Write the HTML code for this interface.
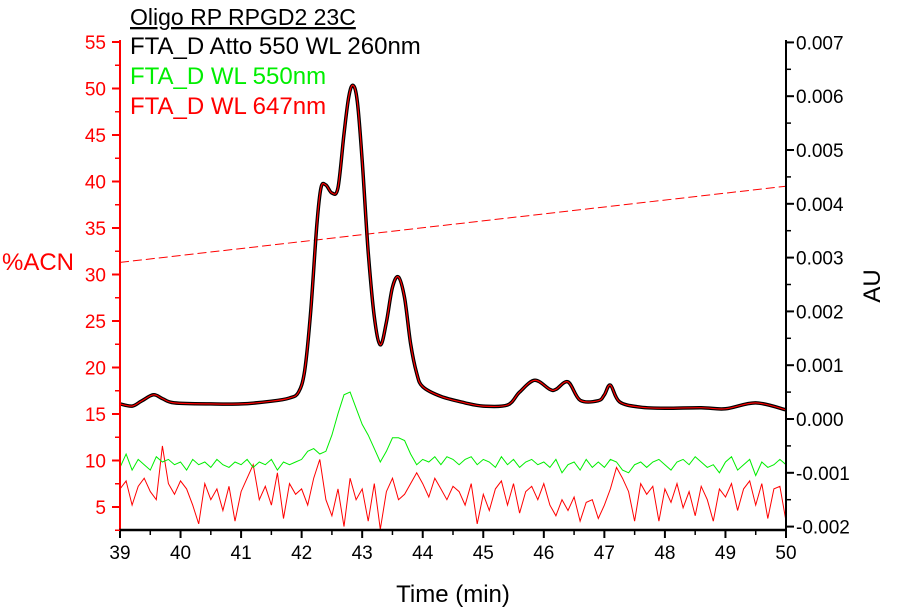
<!DOCTYPE html>
<html><head><meta charset="utf-8"><style>
body{margin:0;background:#fff;}
svg{display:block;font-family:"Liberation Sans",sans-serif;}
</style></head><body>
<svg id="chart" width="905" height="611">
<text x="130" y="25" font-size="23" text-decoration="underline" fill="#000">Oligo RP RPGD2 23C</text>
<text x="130" y="54" font-size="24" fill="#000">FTA_D Atto 550 WL 260nm</text>
<text x="130" y="84" font-size="24" fill="#00ee00">FTA_D WL 550nm</text>
<text x="130" y="114" font-size="24" fill="#ff0000">FTA_D WL 647nm</text>
<text x="2" y="270" font-size="24" fill="#ff0000">%ACN</text>
<text x="0" y="0" font-size="24" fill="#000" transform="translate(880,286) rotate(-90)" text-anchor="middle">AU</text>
<text x="453" y="602" font-size="24" fill="#000" text-anchor="middle">Time (min)</text>
</svg>
<script>
const xTicks=[39,40,41,42,43,44,45,46,47,48,49,50];
const leftTicks=[5,10,15,20,25,30,35,40,45,50,55];
const rightTicks=[-0.002,-0.001,0.000,0.001,0.002,0.003,0.004,0.005,0.006,0.007];
const rightTickLabels=["-0.002","-0.001","0.000","0.001","0.002","0.003","0.004","0.005","0.006","0.007"];
const trace260Time=[39.0,39.2,39.35,39.55,39.7,39.9,40.5,41.0,41.5,41.8,41.95,42.05,42.15,42.25,42.32,42.4,42.5,42.6,42.7,42.78,42.85,42.92,43.0,43.1,43.2,43.3,43.4,43.5,43.6,43.7,43.8,43.9,44.0,44.3,44.7,45.0,45.4,45.6,45.85,46.1,46.2,46.4,46.6,46.9,47.0,47.1,47.25,47.6,48.0,48.6,49.0,49.5,50.0];
const trace260mAU=[0.28,0.24,0.33,0.45,0.38,0.30,0.28,0.28,0.33,0.39,0.5,0.9,2.0,3.6,4.3,4.35,4.2,4.3,5.3,6.0,6.2,5.9,4.8,3.1,1.9,1.38,1.8,2.45,2.64,2.25,1.4,0.85,0.6,0.42,0.30,0.24,0.26,0.50,0.72,0.55,0.55,0.69,0.35,0.34,0.45,0.63,0.32,0.22,0.20,0.21,0.19,0.30,0.17];
const trace550mAU=[-0.9,-0.65,-0.95,-0.75,-0.85,-0.95,-0.7,-0.8,-0.75,-0.85,
-0.8,-0.95,-0.75,-0.85,-0.8,-0.9,-0.75,-0.85,-0.9,-0.8,
-0.85,-0.75,-0.9,-0.8,-0.85,-0.75,-0.95,-0.8,-0.85,-0.8,
-0.75,-0.6,-0.55,-0.65,-0.6,-0.3,0.1,0.45,0.5,0.2,
-0.1,-0.3,-0.55,-0.8,-0.6,-0.35,-0.35,-0.4,-0.65,-0.85,
-0.75,-0.8,-0.7,-0.85,-0.7,-0.75,-0.85,-0.75,-0.7,-0.85,
-0.75,-0.8,-0.9,-0.7,-0.85,-0.75,-0.9,-0.8,-0.75,-0.85,
-0.8,-0.9,-0.75,-1.0,-0.85,-0.8,-0.95,-0.75,-0.9,-0.8,
-0.9,-0.75,-0.8,-0.95,-1.0,-0.85,-0.8,-0.9,-0.8,-0.75,
-0.85,-0.95,-0.8,-0.75,-0.85,-0.7,-0.8,-0.9,-0.85,-1.0,
-0.8,-0.7,-0.95,-0.85,-0.75,-1.05,-0.8,-0.9,-0.85,-0.75,-0.85];
const trace647mAU=[-1.3,-1.15,-1.6,-1.25,-1.1,-1.35,-1.5,-0.5,-1.2,-1.4,
-1.15,-1.3,-1.6,-1.95,-1.2,-1.5,-1.3,-1.7,-1.25,-1.9,
-1.35,-1.1,-0.85,-1.5,-1.25,-1.6,-1.0,-1.85,-1.2,-1.4,
-1.3,-1.6,-1.1,-0.75,-1.5,-1.8,-1.3,-2.0,-1.1,-1.5,
-1.3,-1.9,-1.2,-2.05,-1.35,-1.1,-1.5,-1.4,-1.2,-1.0,
-1.2,-1.45,-1.1,-1.3,-1.5,-1.25,-1.35,-1.6,-1.2,-1.95,
-1.4,-1.7,-1.3,-1.15,-1.6,-1.2,-1.75,-1.35,-1.25,-1.5,
-1.2,-1.6,-1.8,-1.5,-1.7,-1.45,-1.9,-1.55,-1.5,-1.85,
-1.6,-1.3,-0.9,-1.1,-1.35,-1.9,-1.2,-1.4,-1.25,-1.9,
-1.3,-1.55,-1.2,-1.65,-1.35,-1.8,-1.25,-1.5,-1.9,-1.3,
-1.45,-1.2,-1.7,-1.3,-1.15,-1.6,-1.2,-1.85,-1.3,-1.25,-1.9];
const gradientTime=[39,50];
const gradientACN=[31.3,39.5];

const NS="http://www.w3.org/2000/svg";
const svg=document.getElementById('chart');
const X0=120,X1=786,YB=530,YT=40;
const xs=t=>X0+(t-39)/11*(X1-X0);
const yL=v=>42+(55-v)*(465/50);
const yR=a=>419-a*53800;
function mk(tag,attrs){const e=document.createElementNS(NS,tag);for(const k in attrs)e.setAttribute(k,attrs[k]);svg.appendChild(e);return e;}
const defs=mk('defs',{});
const cp=document.createElementNS(NS,'clipPath');cp.setAttribute('id','pc');
const cr=document.createElementNS(NS,'rect');cr.setAttribute('x',X0);cr.setAttribute('y',YT);cr.setAttribute('width',X1-X0);cr.setAttribute('height',YB-YT);
cp.appendChild(cr);defs.appendChild(cp);
function pathD(xa,ya){return xa.map((x,i)=>(i?'L':'M')+x.toFixed(1)+' '+ya[i].toFixed(1)).join(' ');}
function smoothD(xa,ya){
  let d='M'+xa[0].toFixed(1)+' '+ya[0].toFixed(1);
  for(let i=0;i<xa.length-1;i++){
    const x0=xa[Math.max(i-1,0)],y0=ya[Math.max(i-1,0)],x1=xa[i],y1=ya[i],x2=xa[i+1],y2=ya[i+1],x3=xa[Math.min(i+2,xa.length-1)],y3=ya[Math.min(i+2,xa.length-1)];
    const c1x=x1+(x2-x0)/6,c1y=y1+(y2-y0)/6,c2x=x2-(x3-x1)/6,c2y=y2-(y3-y1)/6;
    d+=' C'+c1x.toFixed(1)+' '+c1y.toFixed(1)+' '+c2x.toFixed(1)+' '+c2y.toFixed(1)+' '+x2.toFixed(1)+' '+y2.toFixed(1);
  }
  return d;
}
const step=i=>39+i*0.1;
let p=mk('path',{d:pathD(trace647mAU.map((v,i)=>xs(step(i))),trace647mAU.map(v=>yR(v/1000))),stroke:'#ff0000','stroke-width':1,fill:'none','clip-path':'url(#pc)'});


p=mk('path',{d:pathD(trace550mAU.map((v,i)=>xs(step(i))),trace550mAU.map(v=>yR(v/1000))),stroke:'#00ee00','stroke-width':1,fill:'none','clip-path':'url(#pc)'});


p=mk('path',{d:pathD(gradientTime.map(xs),gradientACN.map(yL)),stroke:'#ff0000','stroke-width':1,'stroke-dasharray':'9 4',fill:'none'});


const d260=smoothD(trace260Time.map(xs),trace260mAU.map(v=>yR(v/1000)));
p=mk('path',{d:d260,stroke:'#000','stroke-width':3.5,fill:'none','stroke-linejoin':'round'});


p=mk('path',{d:d260,stroke:'#ff0000','stroke-width':1.2,fill:'none','stroke-linejoin':'round'});


let a=mk('line',{x1:X0,y1:YT,x2:X0,y2:YB,stroke:'#ff0000','stroke-width':2});


a=mk('line',{x1:X1,y1:YT,x2:X1,y2:YB,stroke:'#000','stroke-width':2});


a=mk('line',{x1:X0-1,y1:YB,x2:X1+1,y2:YB,stroke:'#000','stroke-width':2.5});


xTicks.forEach((t,i)=>{
  const x=xs(t);
  mk('line',{x1:x,y1:YB,x2:x,y2:YB+8,stroke:'#000','stroke-width':2});
  if(i<xTicks.length-1)mk('line',{x1:xs(t+0.5),y1:YB,x2:xs(t+0.5),y2:YB+5,stroke:'#000','stroke-width':1.5});
  const tx=mk('text',{x:x,y:YB+29,'font-size':19,'text-anchor':'middle',fill:'#000'});tx.textContent=t;
  
  
});
leftTicks.forEach(v=>{
  const y=yL(v);
  mk('line',{x1:X0-8,y1:y,x2:X0,y2:y,stroke:'#ff0000','stroke-width':2});
  if(v>5)mk('line',{x1:X0-5,y1:yL(v-2.5),x2:X0,y2:yL(v-2.5),stroke:'#ff0000','stroke-width':1.5});
  const tx=mk('text',{x:106,y:y+7,'font-size':19,'text-anchor':'end',fill:'#ff0000'});tx.textContent=v;
  
  
});
mk('line',{x1:X0-5,y1:yL(2.5),x2:X0,y2:yL(2.5),stroke:'#ff0000','stroke-width':1.5});
rightTicks.forEach((v,i)=>{
  const y=yR(v);
  mk('line',{x1:X1,y1:y,x2:X1+8,y2:y,stroke:'#000','stroke-width':2});
  if(i<rightTicks.length-1)mk('line',{x1:X1,y1:yR(v+0.0005),x2:X1+5,y2:yR(v+0.0005),stroke:'#000','stroke-width':1.5});
  const tx=mk('text',{x:796,y:y+7,'font-size':19,fill:'#000'});tx.textContent=rightTickLabels[i];
  
  
});
</script>
</body></html>
